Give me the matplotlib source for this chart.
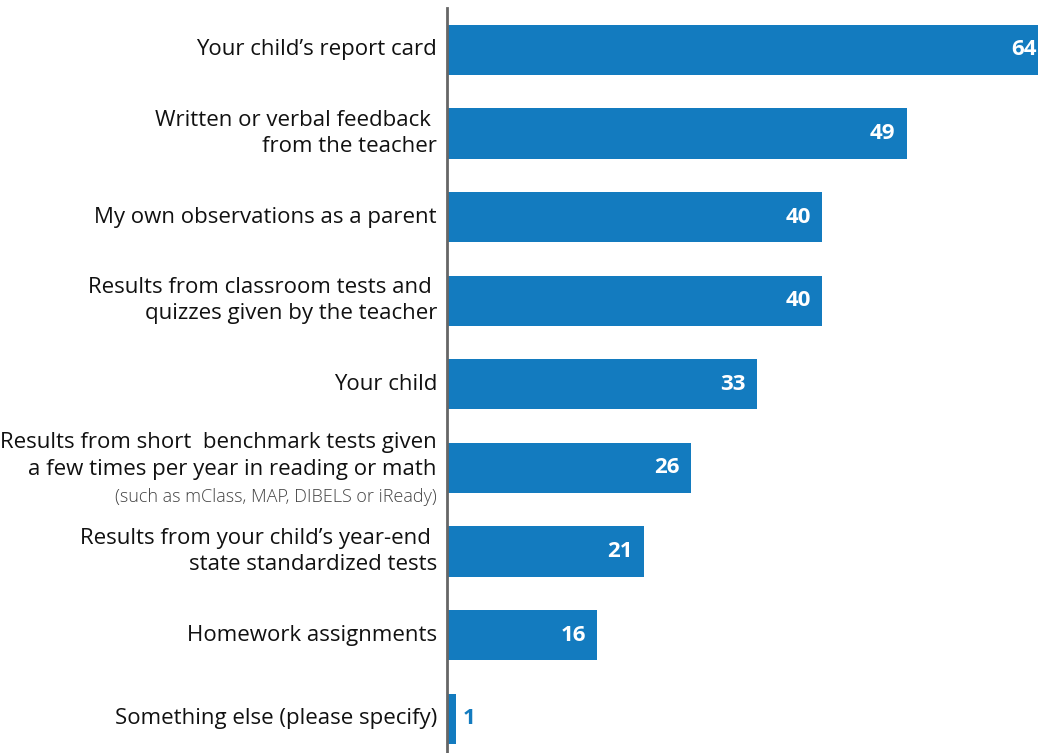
import matplotlib
matplotlib.use("Agg")
import matplotlib.pyplot as plt

categories = [
    "Your child\u2019s report card",
    "Written or verbal feedback \nfrom the teacher",
    "My own observations as a parent",
    "Results from classroom tests and \nquizzes given by the teacher",
    "Your child",
    "Results from short  benchmark tests given\na few times per year in reading or math",
    "Results from your child\u2019s year-end \nstate standardized tests",
    "Homework assignments",
    "Something else (please specify)",
]
notes = ["", "", "", "", "", "(such as mClass, MAP, DIBELS or iReady)", "", "", ""]
values = [64, 49, 40, 40, 33, 26, 21, 16, 1]

BAR = "#137BBF"
plt.rcParams['font.family'] = ['Open Sans', 'DejaVu Sans']

W, H = 1038, 753
fig = plt.figure(figsize=(W / 100, H / 100), dpi=100)
ax_left = 447 / W
ax = fig.add_axes([ax_left, 0, 1 - ax_left, 745 / H])

ys = list(range(len(values)))
ax.barh(ys, values, height=0.6, color=BAR, zorder=2)
ax.set_xlim(0, 591 / 9.38)
ax.set_ylim(8.41, -0.50)
for s in ["top", "right", "bottom"]:
    ax.spines[s].set_visible(False)
ax.spines["left"].set_color("#666666")
ax.spines["left"].set_linewidth(2)
ax.set_xticks([])
ax.set_yticks([])

FS = 16
for y, cat, note, v in zip(ys, categories, notes, values):
    if note:
        ax.annotate(cat, (0, y), xytext=(-10, 12), textcoords="offset pixels",
                    ha="right", va="center", fontsize=FS, color="#111111",
                    linespacing=1.33, annotation_clip=False)
        ax.annotate(note, (0, y), xytext=(-10, -29), textcoords="offset pixels",
                    ha="right", va="center", fontsize=13, color="#444444",
                    fontweight="light", annotation_clip=False)
    else:
        ax.annotate(cat, (0, y), xytext=(-10, 0), textcoords="offset pixels",
                    ha="right", va="center", fontsize=FS, color="#111111",
                    linespacing=1.33, annotation_clip=False)
    if v >= 5:
        ax.annotate(str(v), (v, y), xytext=(-11, 0), textcoords="offset pixels",
                    ha="right", va="center", fontsize=16, fontweight="bold",
                    color="white", annotation_clip=False)
    else:
        ax.annotate(str(v), (v, y), xytext=(6, 0), textcoords="offset pixels",
                    ha="left", va="center", fontsize=16, fontweight="bold",
                    color=BAR, annotation_clip=False)

fig.savefig("out.png", dpi=100)
